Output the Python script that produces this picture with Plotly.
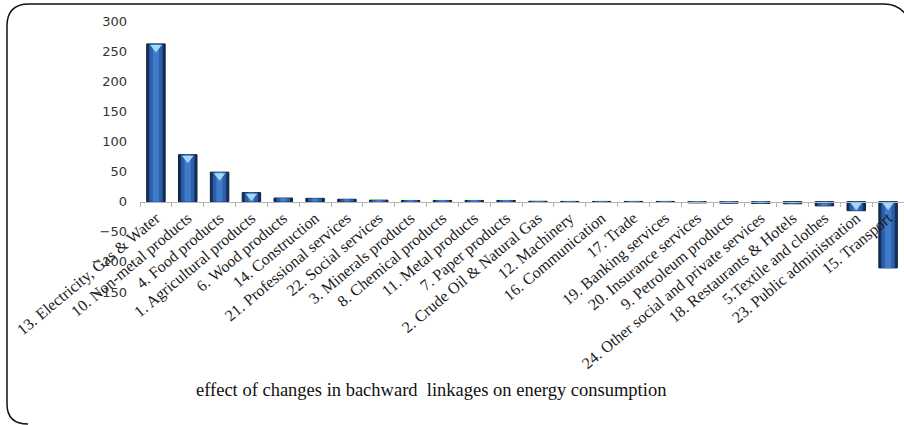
import plotly.graph_objects as go

# Sectors ordered by their effect on energy consumption
sectors = [
    "13. Electricity, Gas & Water", "10. Non-metal products", "4. Food products",
    "1. Agricultural products", "6. Wood products", "14. Construction",
    "21. Professional services", "22. Social services", "3. Minerals products",
    "8. Chemical products", "11. Metal products", "7. Paper products",
    "2. Crude Oil & Natural Gas", "12. Machinery", "16. Communication",
    "17. Trade", "19. Banking services", "20. Insurance services",
    "9. Petroleum products", "24. Other social and private services",
    "18. Restaurants & Hotels", "5.Textile and clothes",
    "23. Public administration", "15. Transport",
]
effect = [
    262, 78, 49, 15, 6, 5.5, 4, 2.5, 2, 2, 2, 2,
    0.6, 0.4, 0.4, 0.4, 0.4, -2, -2.5, -3, -3.5, -7, -15, -110,
]
y_ticks = [-150, -100, -50, 0, 50, 100, 150, 200, 250, 300]

W, H = 904, 425
ML, MR, MT, MB = 140, 0, 21, 133
PW, PH = W - ML - MR, H - MT - MB
Y_MIN, Y_MAX = y_ticks[0], y_ticks[-1]
UNIT_PX = PH / (Y_MAX - Y_MIN)


def px(x, y):
    """Pixel position -> paper coordinates."""
    return (x - ML) / PW, (H - MB - y) / PH


fig = go.Figure()

# layered bars give the bevelled look: dark rim, mid-blue body, lighter core
fig.add_trace(go.Bar(x=sectors, y=effect, width=0.58,
                     marker=dict(color="#13315c", line=dict(color="#0b1e3c", width=1)),
                     hoverinfo="x+y"))
fig.add_trace(go.Bar(x=sectors, y=effect, width=0.42,
                     marker=dict(color="#2c5fa8", line=dict(width=0)), hoverinfo="skip"))
fig.add_trace(go.Bar(x=sectors, y=effect, width=0.2,
                     marker=dict(color="#3f7bc9", line=dict(width=0)), hoverinfo="skip"))

# light highlight at the upper end of the taller bars
tri_size = 10
tri_off = (tri_size * 0.25 + 1) / UNIT_PX
hx, hy = [], []
for s, v in zip(sectors, effect):
    if abs(v) >= 10:
        hx.append(s)
        hy.append(max(v, 0) - tri_off)
fig.add_trace(go.Scatter(x=hx, y=hy, mode="markers",
                         marker=dict(symbol="triangle-down", size=tri_size,
                                     color="#9fdaf6", line=dict(width=0)),
                         hoverinfo="skip"))

# rounded frame around the chart
pts = {
    "bl_a": px(28, 424), "bl_c": px(7, 424), "bl_b": px(7, 404),
    "tl_a": px(7, 26), "tl_c": px(7, 4), "tl_b": px(29, 4),
    "tr_a": px(884, 4), "tr_c": px(900, 4), "tr_b": px(908, 18),
}
path = ("M {bl_a[0]},{bl_a[1]} Q {bl_c[0]},{bl_c[1]} {bl_b[0]},{bl_b[1]} "
        "L {tl_a[0]},{tl_a[1]} Q {tl_c[0]},{tl_c[1]} {tl_b[0]},{tl_b[1]} "
        "L {tr_a[0]},{tr_a[1]} Q {tr_c[0]},{tr_c[1]} {tr_b[0]},{tr_b[1]}").format(**pts)
fig.add_shape(type="path", path=path, xref="paper", yref="paper",
              line=dict(color="#111111", width=1.5), layer="above")

tx, ty = px(431, 390)
fig.add_annotation(text="effect of changes in bachward  linkages on energy consumption",
                   x=tx, y=ty, xref="paper", yref="paper", showarrow=False,
                   xanchor="center", yanchor="middle",
                   font=dict(family="Liberation Serif", size=18.5, color="#111111"))

fig.update_layout(
    width=W, height=H,
    margin=dict(l=ML, r=MR, t=MT, b=MB, autoexpand=False),
    barmode="overlay",
    showlegend=False,
    plot_bgcolor="white", paper_bgcolor="white",
    xaxis=dict(
        type="category",
        range=[-0.5, len(sectors) - 0.5],
        anchor="free",
        position=(0 - Y_MIN) / (Y_MAX - Y_MIN),
        automargin=False,
        showline=True, linecolor="#b4b4b4", linewidth=1,
        ticks="outside", tickson="boundaries", ticklen=4, tickcolor="#b4b4b4",
        tickangle=-40,
        tickfont=dict(family="Liberation Serif", size=16, color="#1a1a1a"),
        showgrid=False, zeroline=False,
    ),
    yaxis=dict(
        range=[Y_MIN, Y_MAX],
        tickvals=y_ticks,
        automargin=False,
        showline=False, showgrid=False, zeroline=False,
        ticks="", ticklabelstandoff=12,
        tickfont=dict(family="DejaVu Sans", size=13, color="#333333"),
    ),
)

fig.write_html("out.html")
